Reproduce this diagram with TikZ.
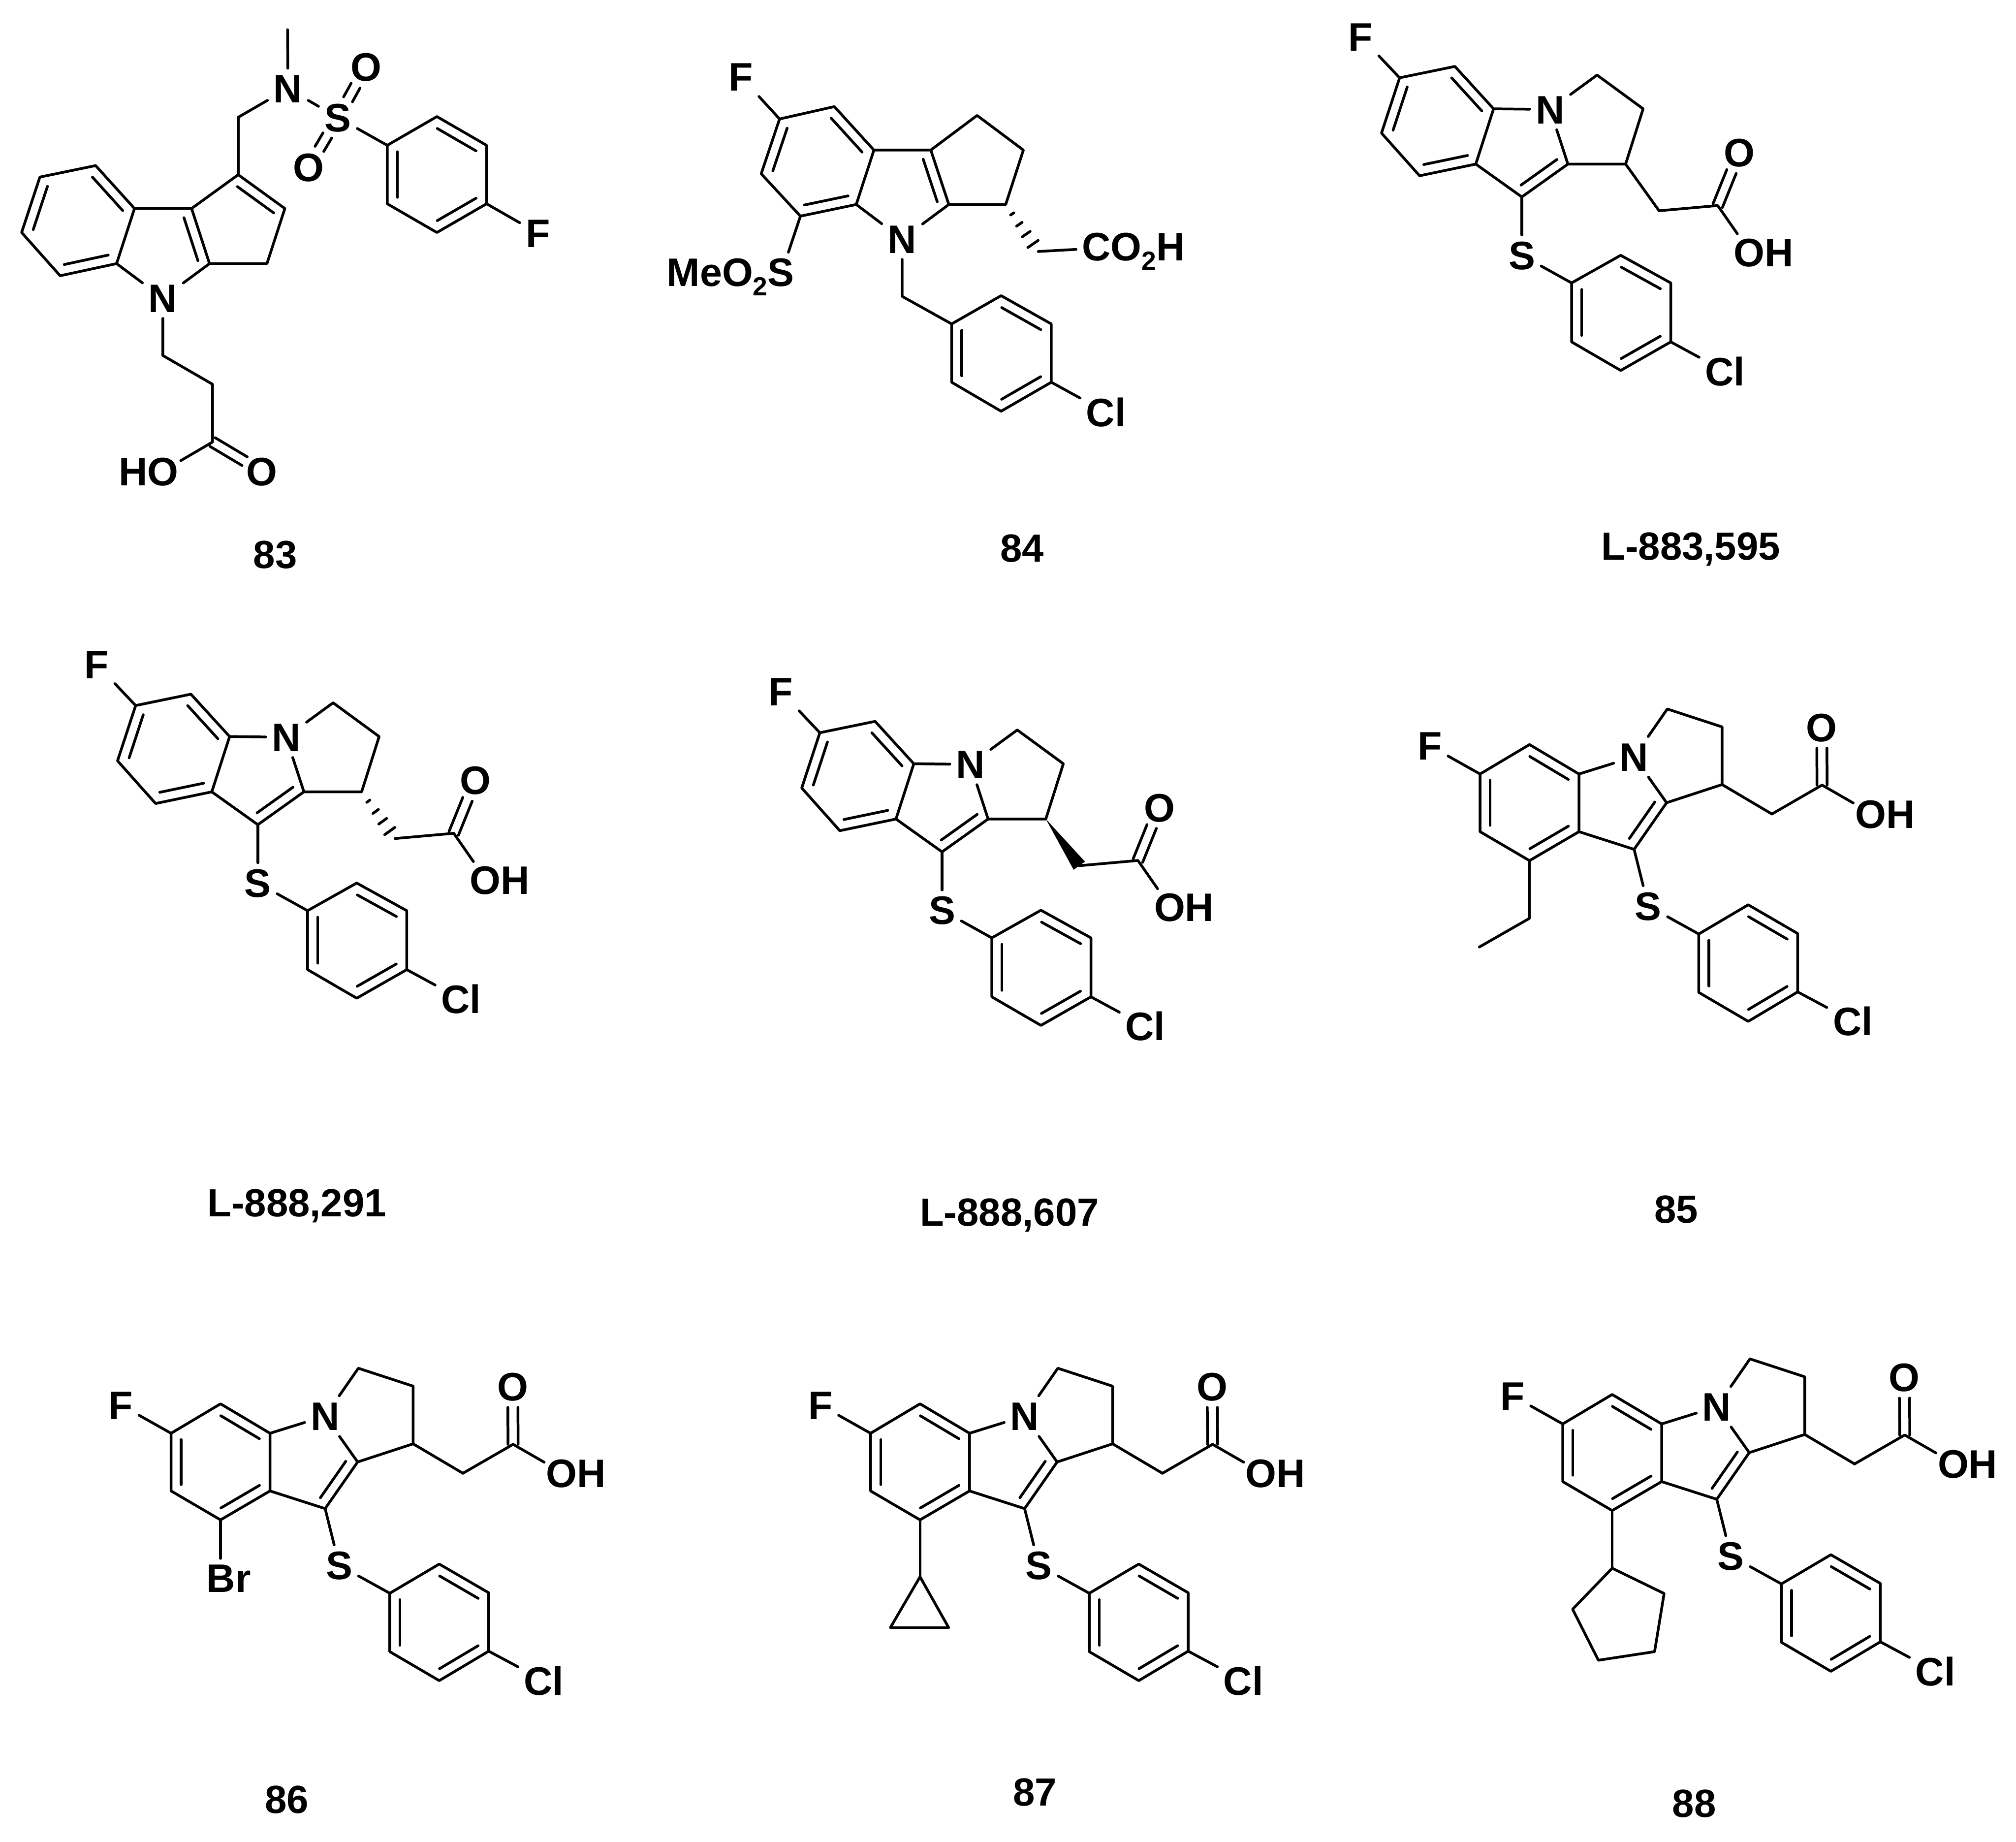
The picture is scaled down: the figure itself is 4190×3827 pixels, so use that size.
\documentclass[tikz,border=0pt]{standalone}
\usepackage{fontspec}
\setmainfont{Liberation Sans}
\usetikzlibrary{calc}
\tikzset{
  bond/.style={line width=0.056cm,line cap=round,line join=round,black},
  atom/.style={font=\bfseries\fontsize{23.5}{26}\selectfont,inner sep=0.12cm,text height=16.8pt,text depth=0pt,black},
  cmp/.style={font=\bfseries\fontsize{23.2}{26}\selectfont,inner sep=0pt,text height=16.6pt,text depth=0pt,black},
}
\newcommand\subtwo{\raisebox{-0.24em}{\fontsize{15.5}{16}\selectfont 2}}
% inner line of a double bond: on the left of the way from #1 to #2
\newcommand\dbl[2]{\draw[bond] ($(#1)!.11!(#2)!0.21cm!90:(#2)$) -- ($(#1)!.89!(#2)!0.21cm!90:(#2)$);}
% symmetric double bond from #1 towards #2, between fractions #3 and #4
\newcommand\dbo[4]{%
  \draw[bond] ($(#1)!#3!(#2)!0.105cm!90:(#2)$) -- ($(#1)!#4!(#2)!0.105cm!90:(#2)$);
  \draw[bond] ($(#1)!#3!(#2)!0.105cm!-90:(#2)$) -- ($(#1)!#4!(#2)!0.105cm!-90:(#2)$);}
\newcommand\hashb[2]{%
  \foreach \t/\w in {.2/0.04,.42/0.07,.63/0.10,.84/0.13}{
    \draw[bond] ($(#1)!\t!(#2)!\w cm!90:(#2)$) -- ($(#1)!\t!(#2)!\w cm!-90:(#2)$);}}
\newcommand\wedgeb[2]{\fill[black] (#1) -- ($(#2)!0.145cm!90:(#1)$) -- ($(#2)!0.145cm!-90:(#1)$) -- cycle;}
\newcommand\aryl[1]{%
  \draw[bond] (#1a1) -- (#1a2) -- (#1a3) -- (#1a4) -- (#1a5) -- (#1a6) -- cycle;
  \dbl{#1a1}{#1a6}\dbl{#1a5}{#1a4}\dbl{#1a3}{#1a2}}
% indole-fused skeleton bonds shared by the two templates
\newcommand\core[1]{%
  \draw[bond] (#1c6) -- (#1c7) -- (#1c7a) -- (#1c8a) -- (#1c8) -- (#1c5) -- cycle;
  \dbl{#1c6}{#1c5}\dbl{#1c8}{#1c8a}\dbl{#1c7a}{#1c7}
  \draw[bond] (#1c7a) -- (#1N);
  \draw[bond] (#1N) -- (#1c9a) -- (#1c9) -- (#1c8a);
  \dbl{#1c9}{#1c9a}
  \draw[bond] (#1N) -- (#1p1) -- (#1p2) -- (#1c1) -- (#1c9a);
  \draw[bond] (#1c6) -- (#1F);
  \draw[bond] (#1c9) -- (#1S);
  \draw[bond] (#1S) -- (#1a1);
  \draw[bond] (#1a4) -- (#1Cl);
  \draw[bond] (#1ch) -- (#1C) -- (#1ohb);
  \dbo{#1C}{#1O}{0}{.64}
  \aryl{#1}}
\newcommand\molA[4]{%
\begin{scope}[shift={(2780+#2,20+#3)},x=0.0063776cm,y=-0.0063776cm]
  \coordinate (#1c6) at (202,222);
  \coordinate (#1c7) at (382,185);
  \coordinate (#1c7a) at (508,323);
  \coordinate (#1c8a) at (450,503);
  \coordinate (#1c8) at (267,541);
  \coordinate (#1c5) at (143,402);
  \coordinate (#1p1) at (845,213);
  \coordinate (#1p2) at (995,323);
  \coordinate (#1c1) at (938,503);
  \coordinate (#1c9a) at (750,503);
  \coordinate (#1c9) at (600,610);
  \coordinate (#1a1) at (762,890);
  \coordinate (#1a2) at (922,800);
  \coordinate (#1a3) at (1085,890);
  \coordinate (#1a4) at (1085,1082);
  \coordinate (#1a5) at (922,1175);
  \coordinate (#1a6) at (762,1082);
  \coordinate (#1ch) at (1047,655);
  \coordinate (#1C) at (1238,638);
  \coordinate (#1ohb) at (1302,730);
  \node[atom] (#1F) at (75,88) {F};
  \node[atom] (#1N) at (692,325) {N};
  \node[atom] (#1S) at (600,800) {S};
  \node[atom] (#1Cl) at (1262,1178) {Cl};
  \node[atom] (#1O) at (1308,465) {O};
  \node[atom] (#1OH) at (1388,790) {OH};
  \core{#1}
  #4
\end{scope}}
\newcommand\molB[4]{%
\begin{scope}[shift={(2880+#2,1430+#3)},x=0.0073341cm,y=-0.0051020cm]
  \coordinate (#1c6) at (267,350);
  \coordinate (#1c7) at (407,230);
  \coordinate (#1c7a) at (547,350);
  \coordinate (#1c8a) at (547,585);
  \coordinate (#1c8) at (407,703);
  \coordinate (#1c5) at (267,585);
  \coordinate (#1p1) at (797,85);
  \coordinate (#1p2) at (952,158);
  \coordinate (#1c1) at (952,393);
  \coordinate (#1c9a) at (795,467);
  \coordinate (#1c9) at (703,657);
  \coordinate (#1a1) at (886,1002);
  \coordinate (#1a2) at (1026,883);
  \coordinate (#1a3) at (1166,1000);
  \coordinate (#1a4) at (1166,1238);
  \coordinate (#1a5) at (1026,1358);
  \coordinate (#1a6) at (886,1240);
  \coordinate (#1ch) at (1093,513);
  \coordinate (#1C) at (1235,395);
  \coordinate (#1ohb) at (1323,468);
  \node[atom] (#1F) at (125,235) {F};
  \node[atom] (#1N) at (703,280) {N};
  \node[atom] (#1S) at (743,888) {S};
  \node[atom] (#1Cl) at (1322,1358) {Cl};
  \node[atom] (#1O) at (1234,160) {O};
  \node[atom] (#1OH) at (1413,513) {OH};
  \core{#1}
  \draw[bond] (#1c1) -- (#1ch);
  #4
\end{scope}}
\begin{document}
\begin{tikzpicture}[x=0.01cm,y=-0.01cm]
\useasboundingbox (0,0) rectangle (4190,3827);
\fill[white] (0,0) rectangle (4190,3827);

% --- 83 ---
\begin{scope}[x=0.0070151cm,y=-0.0070151cm]
  \coordinate (b1) at (283,490);
  \coordinate (b2) at (118,524);
  \coordinate (b3) at (64,688);
  \coordinate (b4) at (178,816);
  \coordinate (b5) at (345,780);
  \coordinate (b6) at (398,617);
  \coordinate (c3a) at (567,617);
  \coordinate (c8a) at (620,780);
  \coordinate (c3) at (705,517);
  \coordinate (c2) at (843,617);
  \coordinate (c1) at (790,780);
  \coordinate (cm) at (705,347);
  \coordinate (me) at (851,88);
  \coordinate (ga1) at (1146,430);
  \coordinate (ga2) at (1293,345);
  \coordinate (ga3) at (1440,430);
  \coordinate (ga4) at (1440,603);
  \coordinate (ga5) at (1293,688);
  \coordinate (ga6) at (1146,603);
  \coordinate (e1) at (482,1052);
  \coordinate (e2) at (629,1137);
  \coordinate (e3) at (629,1308);
  \coordinate (hob) at (535,1363);
  \node[atom] (gN1) at (482,882) {N};
  \node[atom] (gN2) at (852,262) {N};
  \node[atom] (gS) at (1000,348) {S};
  \node[atom] (gO1) at (1083,198) {O};
  \node[atom] (gO2) at (913,495) {O};
  \node[atom] (gF) at (1592,690) {F};
  \node[atom] (gHO) at (440,1395) {HO};
  \node[atom] (gO3) at (775,1395) {O};
  \draw[bond] (b1) -- (b2) -- (b3) -- (b4) -- (b5) -- (b6) -- cycle;
  \dbl{b2}{b3}\dbl{b4}{b5}\dbl{b6}{b1}
  \draw[bond] (b6) -- (c3a) -- (c8a) -- (gN1) -- (b5);
  \dbl{c8a}{c3a}
  \draw[bond] (c3a) -- (c3) -- (c2) -- (c1) -- (c8a);
  \dbl{c2}{c3}
  \draw[bond] (c3) -- (cm) -- (gN2) -- (me);
  \draw[bond] (gN2) -- (gS) -- (ga1);
  \dbo{gS}{gO1}{.36}{.63}
  \dbo{gS}{gO2}{.36}{.63}
  \aryl{g}
  \draw[bond] (ga4) -- (gF);
  \draw[bond] (gN1) -- (e1) -- (e2) -- (e3) -- (hob);
  \dbo{e3}{gO3}{0}{.65}
\end{scope}
\node[cmp] (t83) at (572,1152) {83};

% --- 84 ---
\begin{scope}[shift={(1350,60)},x=0.0073341cm,y=-0.0073341cm]
  \coordinate (r1) at (368,255);
  \coordinate (r2) at (523,220);
  \coordinate (r3) at (635,343);
  \coordinate (r4) at (585,497);
  \coordinate (r5) at (427,530);
  \coordinate (r6) at (316,410);
  \coordinate (s1) at (796,343);
  \coordinate (s2) at (847,497);
  \coordinate (s3) at (927,245);
  \coordinate (s4) at (1058,343);
  \coordinate (s5) at (1008,497);
  \coordinate (s6) at (1100,630);
  \coordinate (s7) at (715,757);
  \coordinate (sb) at (393,632);
  \coordinate (ha1) at (855,835);
  \coordinate (ha2) at (995,755);
  \coordinate (ha3) at (1137,835);
  \coordinate (ha4) at (1137,1000);
  \coordinate (ha5) at (995,1082);
  \coordinate (ha6) at (855,1000);
  \node[atom] (hF) at (258,135) {F};
  \node[atom] (hN) at (715,595) {N};
  \node[atom] (hCl) at (1292,1085) {Cl};
  \node[atom] (hCO) at (1370,615) {CO\subtwo H};
  \node[atom] (hMe) at (229,688) {MeO\subtwo S};
  \draw[bond] (r1) -- (r2) -- (r3) -- (r4) -- (r5) -- (r6) -- cycle;
  \dbl{r1}{r6}\dbl{r5}{r4}\dbl{r3}{r2}
  \draw[bond] (r3) -- (s1) -- (s2) -- (hN) -- (r4);
  \dbl{s2}{s1}
  \draw[bond] (s1) -- (s3) -- (s4) -- (s5) -- (s2);
  \hashb{s5}{s6}
  \draw[bond] (s6) -- (hCO);
  \draw[bond] (r1) -- (hF);
  \draw[bond] (r5) -- (sb);
  \draw[bond] (hN) -- (s7) -- (ha1);
  \aryl{h}
  \draw[bond] (ha4) -- (hCl);
\end{scope}
\node[cmp] (t84) at (2124,1138) {84};

% --- L-883,595 and its two enantiomers ---
\molA{la}{0}{0}{\draw[bond] (lac1) -- (lach);}
\node[cmp] (tla) at (3514,1134) {L-883,595};
\molA{lb}{-2627}{1304.5}{\hashb{lbc1}{lbch}}
\node[cmp] (tlb) at (617,2499) {L-888,291};
\molA{lc}{-1205}{1361}{\wedgeb{lcc1}{lcch}}
\node[cmp] (tlc) at (2098,2518) {L-888,607};

% --- 85 to 88 ---
\molB{m}{0}{0}{%
  \coordinate (me1) at (407,938);
  \coordinate (me2) at (265,1055);
  \draw[bond] (mc8) -- (me1) -- (me2);}
\node[cmp] (t85) at (3484,2512) {85};
\molB{n}{-2720.5}{1370}{%
  \node[atom] (nBr) at (430,940) {Br};
  \coordinate (nbb) at (407,860);
  \draw[bond] (nc8) -- (nbb);}
\node[cmp] (t86) at (596,3739) {86};
\molB{o}{-1266.7}{1370}{%
  \coordinate (oq1) at (407,935);
  \coordinate (oq2) at (323,1142);
  \coordinate (oq3) at (488,1142);
  \draw[bond] (oc8) -- (oq1);
  \draw[bond] (oq1) -- (oq2) -- (oq3) -- cycle;}
\node[cmp] (t87) at (2151,3723) {87};
\molB{q}{171.8}{1350.6}{%
  \coordinate (qq1) at (407,938);
  \coordinate (qq2) at (554,1041);
  \coordinate (qq3) at (527,1278);
  \coordinate (qq4) at (368,1313);
  \coordinate (qq5) at (295,1105);
  \draw[bond] (qc8) -- (qq1);
  \draw[bond] (qq1) -- (qq2) -- (qq3) -- (qq4) -- (qq5) -- cycle;}
\node[cmp] (t88) at (3521,3747) {88};
\end{tikzpicture}
\end{document}
